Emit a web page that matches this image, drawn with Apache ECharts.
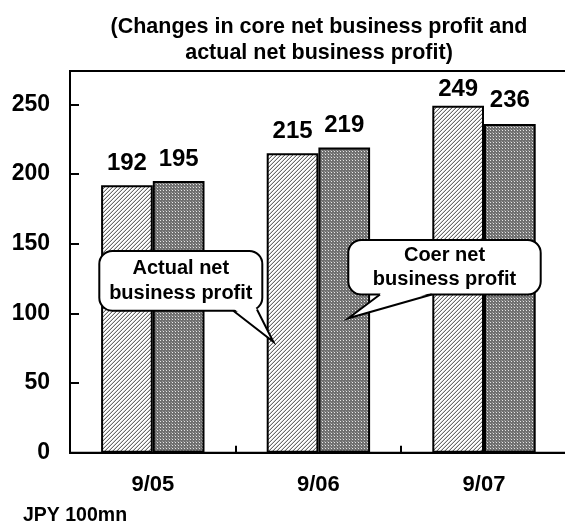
<!DOCTYPE html>
<html>
<head>
<meta charset="utf-8">
<script src="https://cdn.jsdelivr.net/npm/echarts@6/dist/echarts.min.js"></script>
<style>
html,body{margin:0;padding:0;background:#fff;}
#chart{width:565px;height:522px;}
</style>
</head>
<body>
<div id="chart"></div>
<script>
// ---- data ----
const categories = ['9/05', '9/06', '9/07'];
const actualNet = [192, 215, 249];   // hatched bars
const coreNet = [195, 219, 236];     // dotted grey bars
const yMin = 0;
const yMax = 274;
const yInterval = 50;
const titleLines = ['(Changes in core net business profit and', 'actual net business profit)'];
const unitText = 'JPY 100mn';
const calloutActual = ['Actual net', 'business profit'];
const calloutCore = ['Coer net', 'business profit'];

// label gaps (style only)
const actualLabelGap = [10, 10, 4];
const coreLabelGap = [10, 10, 12];

const FONT = "'Liberation Sans', Arial, sans-serif";

function makeHatch() {
  const c = document.createElement('canvas');
  c.width = 4; c.height = 4;
  const ctx = c.getContext('2d');
  ctx.fillStyle = '#ffffff';
  ctx.fillRect(0, 0, 4, 4);
  for (let x = 0; x < 4; x++) {
    for (let y = 0; y < 4; y++) {
      const k = (x + y) % 4;
      if (k === 3) { ctx.fillStyle = '#6a6a6a'; ctx.fillRect(x, y, 1, 1); }
      else if (k === 2) { ctx.fillStyle = '#d2d2d2'; ctx.fillRect(x, y, 1, 1); }
    }
  }
  return c;
}
function makeDots() {
  const c = document.createElement('canvas');
  c.width = 3; c.height = 3;
  const ctx = c.getContext('2d');
  ctx.fillStyle = '#707070';
  ctx.fillRect(0, 0, 3, 3);
  ctx.fillStyle = '#e6e6e6';
  ctx.fillRect(1, 1, 1, 1);
  ctx.fillStyle = '#9a9a9a';
  ctx.fillRect(0, 0, 1, 1);
  return c;
}

const chart = echarts.init(document.getElementById('chart'), null, {renderer: 'canvas'});

function callout(box, tip, roots, lines, lineH) {
  const x0 = box[0], y0 = box[1], x1 = box[2], y1 = box[3];
  const cx = (x0 + x1) / 2, cy = (y0 + y1) / 2;
  return [
    {type: 'rect', shape: {x: x0, y: y0, width: x1 - x0, height: y1 - y0, r: 13},
     style: {fill: '#fff', stroke: '#000', lineWidth: 2}, z: 100},
    {type: 'polygon', shape: {points: [[roots[0][0] + 1, roots[0][1] - 1.6], [tip[0], tip[1]], [roots[1][0] - 1, roots[1][1] - 1.6]]},
     style: {fill: '#fff', stroke: null}, z: 101},
    {type: 'polyline', shape: {points: [roots[0], tip, roots[1]]},
     style: {stroke: '#000', lineWidth: 2, fill: null}, z: 102},
    {type: 'text', x: cx, y: cy, z: 103,
     style: {text: lines.join('\n'), fill: '#000', font: 'bold 20px ' + FONT,
             align: 'center', verticalAlign: 'middle', lineHeight: lineH}}
  ];
}

const option = {
  backgroundColor: '#ffffff',
  animation: false,
  title: {
    text: titleLines.join('\n'),
    left: 319, top: 14, textAlign: 'center', padding: 0,
    textStyle: {fontFamily: FONT, fontWeight: 'bold', fontSize: 21.5, color: '#000', lineHeight: 26}
  },
  grid: {
    left: 70, top: 71, width: 496.8, height: 381.7,
    outerBoundsMode: 'none', containLabel: false,
    show: true, borderColor: '#000', borderWidth: 2, backgroundColor: 'transparent'
  },
  xAxis: {
    type: 'category',
    data: categories,
    axisLine: {lineStyle: {color: '#000', width: 2}},
    axisTick: {show: true, inside: true, length: 7, lineStyle: {color: '#000', width: 2}},
    axisLabel: {color: '#000', fontFamily: FONT, fontWeight: 'bold', fontSize: 22, margin: 21},
    splitLine: {show: false}
  },
  yAxis: {
    type: 'value',
    min: yMin, max: yMax, interval: yInterval,
    axisLine: {show: true, lineStyle: {color: '#000', width: 2}},
    axisTick: {show: true, inside: true, length: 9, lineStyle: {color: '#000', width: 2}},
    axisLabel: {color: '#000', fontFamily: FONT, fontWeight: 'bold', fontSize: 23, margin: 20,
                formatter: v => (v % yInterval === 0 ? String(v) : '')},
    splitLine: {show: false}
  },
  series: [
    {
      name: 'Actual net business profit',
      type: 'bar',
      barWidth: 51.7,
      barGap: '0%',
      itemStyle: {color: {image: makeHatch(), repeat: 'repeat'}, borderColor: '#000', borderWidth: 2},
      label: {show: true, position: 'top', color: '#000', fontFamily: FONT, fontWeight: 'bold', fontSize: 24},
      data: actualNet.map((v, i) => ({value: v, label: {distance: actualLabelGap[i]}}))
    },
    {
      name: 'Core net business profit',
      type: 'bar',
      barWidth: 51.7,
      barGap: '0%',
      itemStyle: {color: {image: makeDots(), repeat: 'repeat'}, borderColor: '#000', borderWidth: 2},
      label: {show: true, position: 'top', color: '#000', fontFamily: FONT, fontWeight: 'bold', fontSize: 24},
      data: coreNet.map((v, i) => ({value: v, label: {distance: coreLabelGap[i]}}))
    }
  ],
  graphic: [
    {type: 'text', left: 23, top: 506,
     style: {text: unitText, fill: '#000', font: 'bold 19.5px ' + FONT}},
    ...callout([99.3, 251, 262.3, 310.7], [273.3, 341.7], [[233.3, 310.7], [257, 309.5]], calloutActual, 24.5),
    ...callout([348.3, 240, 540.7, 294.5], [348.3, 318.3], [[380, 294.5], [431.7, 294.5]], calloutCore, 23.5)
  ]
};
chart.setOption(option);
</script>
</body>
</html>
